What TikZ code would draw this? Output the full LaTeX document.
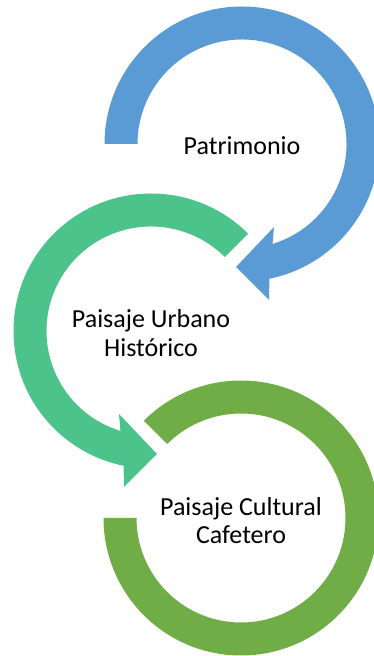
\documentclass[tikz,border=0pt]{standalone}
\usepackage{fontspec}
\setmainfont{Carlito}
\usepackage{xcolor}
\usepackage{tikz}
\usetikzlibrary{calc}

\definecolor{ringblue}{HTML}{5B9BD5}
\definecolor{ringteal}{HTML}{4CC38B}
\definecolor{ringolive}{HTML}{70AD47}

\begin{document}
\begin{tikzpicture}[
  x=1pt,y=1pt,
  lbl/.style={align=center,inner sep=0pt,font=\fontsize{26}{28.5}\selectfont},
  bluearc/.style={fill=ringblue},
  tealarc/.style={fill=ringteal},
  olivearc/.style={fill=ringolive},
]
\useasboundingbox (0,0) rectangle (373,656);

\coordinate (cb) at (242,512);
\coordinate (cg) at (151,325);
\coordinate (co) at (241,138);

% last ring, no head
\fill[olivearc] ($(co)+(135:137.5)$) arc[start angle=135,end angle=-180,radius=137.5]
  -- ($(co)+(180:104.5)$) arc[start angle=-180,end angle=135,radius=104.5] -- cycle;

% middle ring, head to the right
\fill[tealarc] ($(cg)+(45:137.5)$) arc[start angle=45,end angle=258.5,radius=137.5]
  -- ($(cg)+(-27,-156)$) -- ($(cg)+(6,-123)$) -- ($(cg)+(-32,-83)$)
  -- ($(cg)+(253:104.5)$) arc[start angle=253,end angle=45,radius=104.5] -- cycle;

% first ring, head to the left
\fill[bluearc] ($(cb)+(180:137.5)$) arc[start angle=180,end angle=-78.5,radius=137.5]
  -- ($(cb)+(27,-156)$) -- ($(cb)+(-6,-123)$) -- ($(cb)+(32,-83)$)
  -- ($(cb)+(-73:104.5)$) arc[start angle=-73,end angle=180,radius=104.5] -- cycle;

\node[lbl] (patri) at ($(cb)+(0,-2)$) {Patrimonio};
\node[lbl] (urbano) at ($(cg)+(0,-2)$) {Paisaje Urbano\\Histórico};
\node[lbl] (cafe) at ($(co)+(0,-2.5)$) {Paisaje Cultural\\Cafetero};
\end{tikzpicture}
\end{document}
